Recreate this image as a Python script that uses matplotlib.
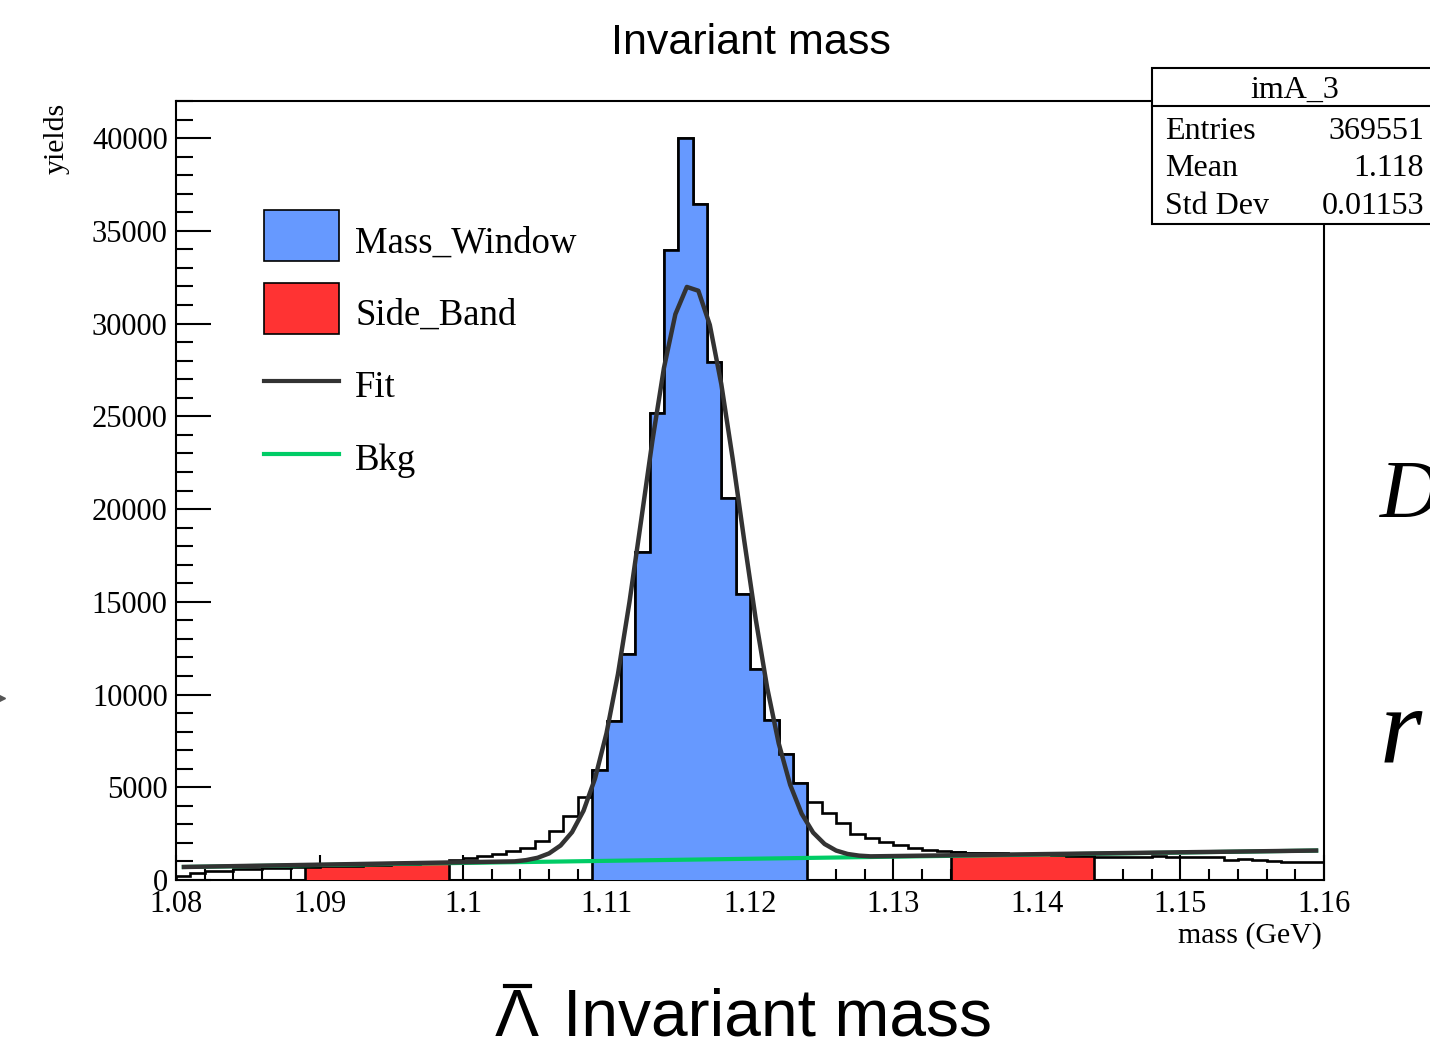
import numpy as np
import matplotlib
matplotlib.use("Agg")
import matplotlib.pyplot as plt
from matplotlib.patches import Rectangle
from matplotlib.lines import Line2D
from matplotlib.ticker import MultipleLocator

plt.rcParams['font.family'] = ['Liberation Serif', 'DejaVu Serif']

# histogram: 80 bins of 1 MeV from 1.08 to 1.16 GeV
edges = np.round(np.linspace(1.08, 1.16, 81), 4)
counts = np.array([
    230, 390, 500, 510, 580, 600, 640, 660, 690,            # 1.080 - 1.089
    720, 740, 760, 780, 800, 820, 850, 880, 920, 980,       # side band left
    1080, 1200, 1310, 1390, 1565, 1745, 2105, 2645, 3455, 4464,
    5938, 8583, 12200, 17690, 25155, 33940, 39990, 36450,   # mass window
    27925, 20620, 15440, 11352, 8600, 6801, 5252,
    4227, 3600, 3060, 2483, 2250, 2070, 1873, 1745, 1620, 1565,
    1490, 1460, 1450, 1440, 1420, 1400, 1380, 1350, 1320, 1300,  # side band right
    1260, 1260, 1260, 1260, 1300, 1260, 1230, 1230, 1220, 1080,
    1120, 1100, 1030, 990, 990, 980,
])

window = (29, 44)      # bin index range, 1.109 - 1.124
side_l = (9, 19)       # 1.089 - 1.099
side_r = (54, 64)      # 1.134 - 1.144

# fit curve as drawn (TF1 sampled points) and linear background
fit_x = [1.0804, 1.1036, 1.1044, 1.1052, 1.1060, 1.1068, 1.1076, 1.1084, 1.1092,
         1.1100, 1.1108, 1.1116, 1.1124, 1.1132, 1.1140, 1.1148, 1.1156, 1.1164,
         1.1172, 1.1180, 1.1188, 1.1196, 1.1204, 1.1212, 1.1220, 1.1228, 1.1236,
         1.1244, 1.1252, 1.1260, 1.1268, 1.1276, 1.1284, 1.1596]
fit_y = [700, 1005, 1072, 1198, 1434, 1860, 2580, 3737, 5470,
         7915, 11108, 14983, 19310, 23690, 27595, 30506, 31975, 31770,
         29928, 26735, 22677, 18290, 14058, 10356, 7368, 5132, 3573,
         2556, 1940, 1588, 1403, 1314, 1275, 1590]
bkg_x = [1.0804, 1.1596]
bkg_y = [700, 1590]

blue = '#6699ff'
red = '#ff3333'
green = '#00cc66'
fitc = '#333333'

W, H = 1430, 1043


def fx(x):
    return x / W


def fy(y):
    return 1 - y / H


fig = plt.figure(figsize=(W / 100, H / 100), dpi=100)
ax = fig.add_axes([fx(176), fy(880), (1324 - 176) / W, (880 - 101) / H])

ax.stairs(counts, edges, color='black', lw=1.9, baseline=0, zorder=2)
for (a, b), col in [(window, blue), (side_l, red), (side_r, red)]:
    ax.stairs(counts[a:b], edges[a:b + 1], fill=True, color=col, lw=0, zorder=3)
    ax.stairs(counts[a:b], edges[a:b + 1], color='black', lw=1.9, baseline=0, zorder=3)

ax.plot(bkg_x, bkg_y, color=green, lw=3, zorder=4, solid_capstyle='butt')
ax.plot(fit_x, fit_y, color=fitc, lw=3.2, zorder=5, solid_capstyle='butt')

ax.set_xlim(1.08, 1.16)
ax.set_ylim(0, 42000)
ax.set_xticks(edges[::10])
ax.set_xticklabels(['1.08', '1.09', '1.1', '1.11', '1.12', '1.13', '1.14', '1.15', '1.16'])
ax.set_yticks(np.arange(0, 40001, 5000))
ax.set_yticklabels([str(v) for v in range(0, 40001, 5000)])
ax.xaxis.set_minor_locator(MultipleLocator(0.002))
ax.yaxis.set_minor_locator(MultipleLocator(1000))
ax.tick_params(axis='both', which='both', direction='in', top=False, right=False,
               width=1.5, labelsize=22)
ax.tick_params(axis='x', which='major', length=18, pad=7)
ax.tick_params(axis='x', which='minor', length=8)
ax.tick_params(axis='y', which='major', length=25, pad=6)
ax.tick_params(axis='y', which='minor', length=12.5)
for s in ax.spines.values():
    s.set_linewidth(1.5)

# axis titles, ROOT style
fig.text(fx(57), fy(103), 'yields', rotation=90, ha='center', va='top', fontsize=21.5)
fig.text(fx(1322), fy(936), 'mass (GeV)', ha='right', va='center', fontsize=21.5)

# legend
fig.add_artist(Rectangle((fx(264), fy(261)), 75 / W, 51 / H, transform=fig.transFigure,
                         facecolor=blue, edgecolor='black', lw=1.2))
fig.add_artist(Rectangle((fx(264), fy(334)), 75 / W, 51 / H, transform=fig.transFigure,
                         facecolor=red, edgecolor='black', lw=1.2))
fig.add_artist(Line2D([fx(264), fx(339)], [fy(381), fy(381)], transform=fig.transFigure,
                      color=fitc, lw=3))
fig.add_artist(Line2D([fx(264), fx(339)], [fy(454), fy(454)], transform=fig.transFigure,
                      color=green, lw=3))
for lab, yb in [('Mass_Window', 253), ('Side_Band', 325), ('Fit', 397), ('Bkg', 470)]:
    fig.text(fx(355), fy(yb), lab, ha='left', va='baseline', fontsize=26.5)

# stat box
fig.add_artist(Rectangle((fx(1152), fy(224)), (1450 - 1152) / W, (224 - 68) / H,
                         transform=fig.transFigure, facecolor='white', edgecolor='black',
                         lw=1.5, zorder=10))
fig.add_artist(Line2D([fx(1152), fx(1450)], [fy(106), fy(106)], transform=fig.transFigure,
                      color='black', lw=1.5, zorder=11))
fig.text(fx(1295), fy(98), 'imA_3', ha='center', va='baseline', fontsize=23, zorder=12)
for lab, val, yb in [('Entries', '369551', 139), ('Mean', '1.118', 176),
                     ('Std Dev', '0.01153', 214)]:
    fig.text(fx(1165), fy(yb), lab, ha='left', va='baseline', fontsize=23, zorder=12)
    fig.text(fx(1424), fy(yb), val, ha='right', va='baseline', fontsize=23, zorder=12)

# slide titles
sans = ['Liberation Sans', 'DejaVu Sans']
fig.text(fx(751), fy(38), 'Invariant mass', ha='center', va='center_baseline', fontsize=31,
         family=sans)
fig.text(fx(563), fy(1036), 'Invariant mass', ha='left', va='baseline', fontsize=47.5,
         family=sans)
fig.text(fx(517), fy(1036), 'Λ', ha='center', va='baseline', fontsize=47.5, family=sans)
fig.add_artist(Line2D([fx(505), fx(530)], [fy(986), fy(986)], transform=fig.transFigure,
                      color='black', lw=3))

# fragments of neighbouring slide text at the right edge
fig.text(fx(1380), fy(517), 'D', ha='left', va='baseline', fontsize=60, style='italic')
fig.text(fx(1380), fy(762), 'r', ha='left', va='baseline', fontsize=78, style='italic')
fig.add_artist(Line2D([fx(2)], [fy(698)], transform=fig.transFigure, marker='>',
                      markersize=5, color='#555555', lw=0))

fig.savefig('out.png', dpi=100)
